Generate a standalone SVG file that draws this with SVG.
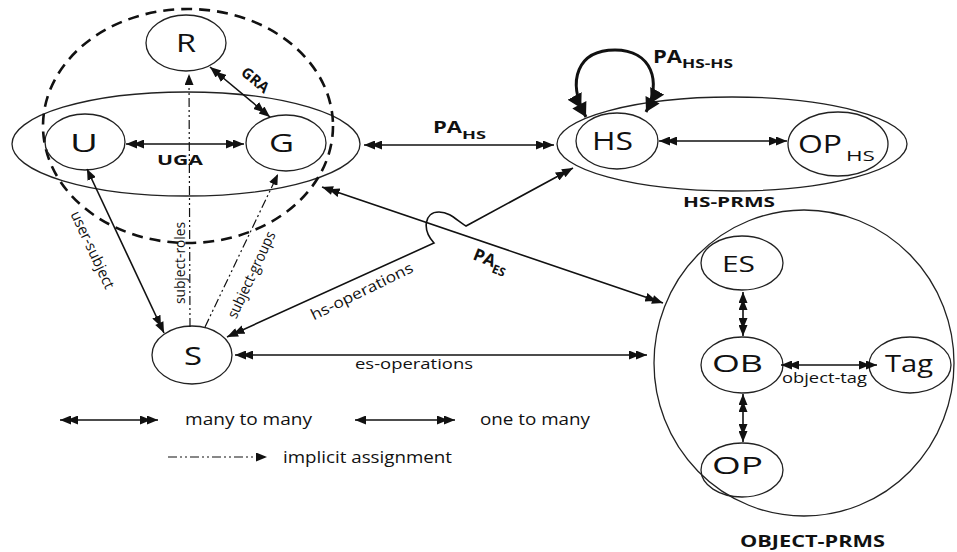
<svg xmlns="http://www.w3.org/2000/svg" width="957" height="552" viewBox="0 0 957 552">
<defs>
<marker id="s" viewBox="0 0 11 9" refX="11" refY="4.5" markerWidth="11" markerHeight="9" markerUnits="userSpaceOnUse" orient="auto-start-reverse"><path d="M0,0 L11,4.5 L0,9 z" fill="#111"/></marker>
<marker id="d" viewBox="0 0 18 9" refX="18" refY="4.5" markerWidth="18" markerHeight="9" markerUnits="userSpaceOnUse" orient="auto-start-reverse"><path d="M0,0 L11,4.5 L0,9 z M7,0 L18,4.5 L7,9 z" fill="#111"/></marker>
<marker id="dl" viewBox="0 0 24 16" refX="24" refY="8" markerWidth="24" markerHeight="16" markerUnits="userSpaceOnUse" orient="auto-start-reverse"><path d="M0,0 L14,8 L0,16 z M10,0 L24,8 L10,16 z" fill="#111"/></marker>
</defs>
<style>
.node{fill:none;stroke:#222;stroke-width:1.3}
.cont{fill:none;stroke:#222;stroke-width:1.3}
.dash{fill:none;stroke:#111;stroke-width:2.6;stroke-dasharray:11 7}
.c{fill:none;stroke:#111;stroke-width:1.6}
.dd{fill:none;stroke:#111;stroke-width:1.2;stroke-dasharray:9 3 2 3 2 3}
text{font-family:"Open Sans","Liberation Sans",sans-serif;fill:#111}
.nl{font-size:26px}
.ns{font-size:23px}
.b{font-weight:bold}
.lb{font-size:15px}
.lg{font-size:17px}
</style>
<rect width="957" height="552" fill="#fff"/>

<g id="containers">
<ellipse id="uga-set" class="cont" cx="186" cy="144" rx="174" ry="52"/>
<ellipse id="role-set" class="dash" cx="188" cy="126" rx="145" ry="117"/>
<g id="hs-prms"><ellipse class="cont" cx="732" cy="144" rx="175" ry="47"/>
<text class="b" x="683" y="207" font-size="15" textLength="92" lengthAdjust="spacingAndGlyphs">HS-PRMS</text></g>
<g id="object-prms"><ellipse class="cont" cx="804" cy="363" rx="150" ry="153"/>
<text class="b" x="740" y="547" font-size="16" textLength="145" lengthAdjust="spacingAndGlyphs">OBJECT-PRMS</text></g>
</g>

<g id="R"><ellipse class="node" cx="186" cy="43" rx="40" ry="28"/><text class="nl" x="176" y="52" textLength="20" lengthAdjust="spacingAndGlyphs">R</text></g>
<g id="U"><ellipse class="node" cx="85" cy="142" rx="40" ry="28"/><text class="nl" x="70" y="152" textLength="28" lengthAdjust="spacingAndGlyphs">U</text></g>
<g id="G"><ellipse class="node" cx="286" cy="143" rx="40" ry="28"/><text class="nl" x="269" y="152" textLength="25" lengthAdjust="spacingAndGlyphs">G</text></g>
<g id="S"><ellipse class="node" cx="192" cy="355" rx="40" ry="29"/><text class="nl" x="184" y="365" textLength="18" lengthAdjust="spacingAndGlyphs">S</text></g>
<g id="HS"><ellipse class="node" cx="617" cy="141" rx="41" ry="28"/><text x="592" y="150" font-size="25" textLength="41" lengthAdjust="spacingAndGlyphs">HS</text></g>
<g id="OP_HS"><ellipse class="node" cx="838" cy="144" rx="50" ry="32"/><text x="798" y="153" font-size="25" textLength="44" lengthAdjust="spacingAndGlyphs">OP</text><text x="846" y="161" font-size="15" textLength="29" lengthAdjust="spacingAndGlyphs">HS</text></g>
<g id="ES"><ellipse class="node" cx="742" cy="263" rx="41" ry="27"/><text x="722" y="272" font-size="22" textLength="33" lengthAdjust="spacingAndGlyphs">ES</text></g>
<g id="OB"><ellipse class="node" cx="742" cy="365" rx="41" ry="28"/><text class="ns" x="712" y="372" textLength="51" lengthAdjust="spacingAndGlyphs">OB</text></g>
<g id="Tag"><ellipse class="node" cx="910" cy="365" rx="41" ry="28"/><text class="ns" x="885" y="372" textLength="48" lengthAdjust="spacingAndGlyphs">Tag</text></g>
<g id="OP"><ellipse class="node" cx="742" cy="470" rx="41" ry="27"/><text class="ns" x="712" y="474" textLength="51" lengthAdjust="spacingAndGlyphs">OP</text></g>

<g id="connectors">
<line class="c" x1="126" y1="144" x2="244" y2="144" marker-start="url(#d)" marker-end="url(#d)"/>
<text class="b" x="157" y="165" font-size="15" textLength="46" lengthAdjust="spacingAndGlyphs">UGA</text>
<line class="c" x1="210" y1="67" x2="270" y2="117" marker-start="url(#d)" marker-end="url(#d)"/>
<text class="b" font-size="15" text-anchor="middle" transform="translate(252,84) rotate(40)">GRA</text>
<line class="c" x1="364" y1="145" x2="554" y2="145" marker-start="url(#d)" marker-end="url(#d)"/>
<text class="b" x="433" y="133" font-size="16" textLength="29" lengthAdjust="spacingAndGlyphs">PA</text>
<text class="b" x="462" y="139" font-size="11" textLength="24" lengthAdjust="spacingAndGlyphs">HS</text>
<path d="M586,117 C566,80 578,50 615,50 C652,50 662,82 646,112" fill="none" stroke="#111" stroke-width="3" marker-start="url(#dl)" marker-end="url(#dl)"/>
<text class="b" x="653" y="63" font-size="18" textLength="29" lengthAdjust="spacingAndGlyphs">PA</text>
<text class="b" x="682" y="68" font-size="12" textLength="51" lengthAdjust="spacingAndGlyphs">HS-HS</text>
<line class="c" x1="659" y1="141" x2="787" y2="141" marker-start="url(#d)" marker-end="url(#d)"/>
<line class="c" x1="322" y1="187" x2="663" y2="303" marker-start="url(#d)" marker-end="url(#d)"/>
<text class="b" font-size="17" transform="translate(472,259) rotate(22)">PA<tspan font-size="12" dy="5">ES</tspan></text>
<path class="c" d="M227,337 L434,243 C422,230 424,212 439,212 C451,212 458,222 466,226 L573,168" marker-start="url(#d)" marker-end="url(#d)"/>
<text class="lb" text-anchor="middle" transform="translate(364,296) rotate(-26)" textLength="112" lengthAdjust="spacingAndGlyphs">hs-operations</text>
<line class="c" x1="235" y1="355" x2="647" y2="355" marker-start="url(#d)" marker-end="url(#d)"/>
<text class="lb" x="355" y="369" textLength="118" lengthAdjust="spacingAndGlyphs">es-operations</text>
<line class="c" x1="87" y1="169" x2="164" y2="333" marker-start="url(#s)" marker-end="url(#d)"/>
<text class="lb" text-anchor="middle" transform="translate(88,252) rotate(65)" textLength="84" lengthAdjust="spacingAndGlyphs">user-subject</text>
<line class="dd" x1="190" y1="327" x2="189" y2="74" marker-end="url(#s)"/>
<text class="lb" text-anchor="middle" transform="translate(185,263) rotate(-90)" textLength="82" lengthAdjust="spacingAndGlyphs">subject-roles</text>
<line class="dd" x1="205" y1="327" x2="278" y2="174" marker-end="url(#s)"/>
<text class="lb" text-anchor="middle" transform="translate(256,277) rotate(-65)" textLength="94" lengthAdjust="spacingAndGlyphs">subject-groups</text>
<line class="c" x1="743" y1="292" x2="743" y2="336" marker-start="url(#d)" marker-end="url(#d)"/>
<line class="c" x1="743" y1="394" x2="743" y2="442" marker-start="url(#d)" marker-end="url(#d)"/>
<line class="c" x1="781" y1="365" x2="877" y2="365" marker-start="url(#d)" marker-end="url(#d)"/>
<text class="lb" x="782" y="383" textLength="85" lengthAdjust="spacingAndGlyphs">object-tag</text>
</g>

<g id="legend">
<line class="c" x1="60" y1="420" x2="158" y2="420" marker-start="url(#d)" marker-end="url(#d)"/>
<text class="lg" x="185" y="425" textLength="127" lengthAdjust="spacingAndGlyphs">many to many</text>
<line class="c" x1="355" y1="420" x2="455" y2="420" marker-start="url(#s)" marker-end="url(#d)"/>
<text class="lg" x="480" y="425" textLength="110" lengthAdjust="spacingAndGlyphs">one to many</text>
<line class="dd" x1="168" y1="457" x2="267" y2="457" marker-end="url(#s)"/>
<text class="lg" x="283" y="463" textLength="169" lengthAdjust="spacingAndGlyphs">implicit assignment</text>
</g>
</svg>
